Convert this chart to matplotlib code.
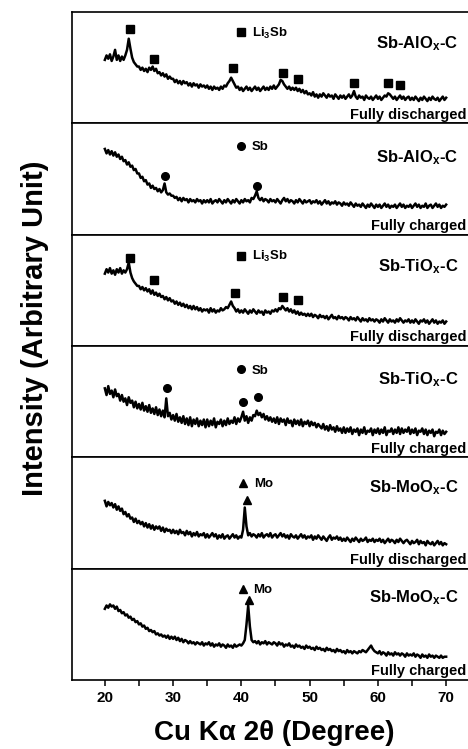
import numpy as np
import matplotlib.pyplot as plt
from matplotlib.ticker import MultipleLocator

plt.rcParams['font.family'] = 'Liberation Sans'
plt.rcParams['font.weight'] = 'bold'
plt.rcParams['mathtext.fontset'] = 'custom'
plt.rcParams['mathtext.rm'] = 'Liberation Sans:bold'
plt.rcParams['mathtext.it'] = 'Liberation Sans:bold'
plt.rcParams['mathtext.bf'] = 'Liberation Sans:bold'

# 2-theta grid of the scans (0.25 deg steps, 20-70 deg)
two_theta = np.arange(20, 70.001, 0.25)

# intensities, each pattern scaled into its own 0-100 panel
alox_discharged = [
    57, 61, 58, 62, 56, 60, 66, 57, 61, 56, 60, 57, 61, 66, 76, 67, 59, 55, 53, 51,
    51, 48, 50, 47, 49, 46, 50, 48, 51, 47, 49, 45, 46, 43, 45, 42, 44, 40, 42, 40,
    40, 37, 39, 36, 38, 35, 38, 36, 37, 34, 36, 33, 36, 34, 35, 32, 35, 33, 34, 32,
    34, 31, 33, 30, 33, 31, 32, 30, 33, 31, 34, 33, 36, 38, 41, 38, 35, 32, 33, 30,
    32, 29, 31, 33, 30, 32, 29, 31, 33, 30, 32, 29, 31, 33, 30, 32, 30, 33, 31, 34,
    31, 33, 35, 39, 38, 35, 33, 31, 33, 30, 32, 30, 32, 29, 31, 28, 30, 27, 29, 26,
    27, 25, 28, 24, 26, 23, 26, 24, 27, 25, 23, 26, 24, 25, 22, 26, 24, 22, 25, 23,
    25, 22, 24, 26, 23, 25, 29, 24, 22, 25, 23, 24, 21, 25, 23, 22, 24, 21, 23, 25,
    22, 24, 21, 23, 25, 24, 27, 26, 24, 22, 24, 21, 23, 25, 22, 24, 21, 23, 24, 21,
    23, 21, 24, 22, 20, 23, 21, 24, 22, 20, 23, 21, 24, 22, 21, 23, 20, 22, 24, 21,
    23]
alox_charged = [
    77, 73, 76, 72, 75, 71, 74, 70, 72, 68, 70, 66, 67, 63, 65, 61, 62, 58, 59, 55,
    55, 51, 52, 48, 49, 45, 46, 42, 44, 41, 42, 39, 41, 38, 40, 46, 38, 36, 37, 35,
    35, 33, 34, 31, 33, 30, 33, 31, 32, 29, 32, 30, 31, 29, 32, 30, 31, 28, 31, 29,
    31, 29, 32, 28, 30, 31, 29, 32, 30, 28, 31, 29, 32, 30, 28, 31, 29, 32, 30, 28,
    31, 29, 32, 30, 31, 29, 33, 32, 35, 39, 33, 31, 33, 30, 32, 31, 29, 32, 30, 31,
    29, 32, 30, 28, 31, 33, 30, 32, 29, 31, 30, 28, 31, 29, 32, 30, 28, 31, 29, 30,
    31, 28, 30, 29, 31, 28, 30, 27, 29, 31, 28, 30, 27, 29, 28, 30, 27, 29, 28, 26,
    29, 27, 28, 26, 29, 27, 25, 28, 26, 27, 25, 28, 26, 24, 27, 25, 28, 26, 24, 27,
    25, 27, 24, 26, 28, 25, 27, 24, 26, 25, 27, 24, 26, 28, 25, 27, 24, 26, 25, 27,
    24, 26, 28, 25, 27, 24, 26, 25, 28, 24, 26, 27, 24, 26, 28, 25, 27, 24, 26, 25,
    27]
tiox_discharged = [
    65, 69, 66, 70, 65, 68, 64, 69, 66, 70, 65, 68, 66, 69, 75, 66, 61, 58, 56, 54,
    54, 51, 53, 50, 52, 49, 51, 47, 50, 46, 48, 45, 47, 44, 45, 42, 44, 41, 43, 40,
    41, 38, 40, 37, 39, 36, 38, 35, 37, 34, 36, 33, 36, 33, 35, 32, 34, 31, 33, 32,
    33, 30, 34, 31, 33, 30, 32, 31, 34, 32, 33, 35, 34, 37, 40, 36, 34, 31, 33, 30,
    32, 30, 33, 31, 29, 32, 30, 33, 31, 29, 32, 30, 31, 28, 32, 30, 31, 29, 32, 31,
    33, 31, 34, 33, 36, 34, 32, 34, 31, 33, 30, 32, 29, 31, 28, 30, 28, 29, 27, 29,
    27, 29, 26, 28, 27, 25, 28, 26, 27, 25, 27, 24, 26, 28, 25, 26, 24, 27, 25, 26,
    24, 26, 25, 23, 26, 24, 25, 23, 26, 24, 22, 25, 23, 24, 22, 25, 23, 24, 22, 24,
    23, 21, 24, 22, 25, 23, 21, 24, 22, 23, 21, 24, 22, 25, 23, 21, 23, 22, 24, 21,
    23, 21, 24, 22, 20, 23, 22, 24, 21, 23, 20, 22, 24, 21, 23, 20, 22, 21, 23, 20,
    22]
tiox_charged = [
    62, 56, 64, 57, 60, 54, 61, 55, 57, 51, 56, 50, 53, 47, 54, 49, 51, 45, 50, 44,
    48, 43, 49, 42, 46, 41, 47, 40, 44, 39, 45, 38, 43, 37, 42, 36, 53, 37, 40, 34,
    38, 33, 39, 32, 36, 31, 37, 30, 35, 29, 36, 28, 34, 30, 35, 28, 33, 29, 34, 27,
    34, 28, 33, 29, 35, 27, 32, 30, 34, 28, 33, 29, 35, 30, 33, 31, 36, 30, 35, 32,
    36, 41, 33, 37, 31, 36, 33, 38, 37, 42, 38, 40, 36, 39, 34, 37, 33, 36, 32, 35,
    31, 36, 30, 35, 32, 34, 29, 35, 31, 33, 28, 34, 30, 33, 29, 34, 28, 32, 30, 33,
    28, 32, 29, 31, 27, 30, 28, 26, 30, 25, 28, 24, 29, 25, 27, 23, 28, 24, 26, 22,
    27, 22, 26, 23, 27, 21, 25, 23, 26, 20, 25, 22, 27, 21, 24, 23, 26, 20, 25, 22,
    26, 21, 25, 22, 27, 20, 24, 23, 26, 21, 25, 22, 27, 21, 26, 22, 25, 23, 27, 21,
    25, 22, 26, 20, 24, 23, 26, 21, 25, 20, 24, 22, 25, 19, 23, 22, 25, 20, 24, 21,
    23]
moox_discharged = [
    61, 56, 60, 57, 59, 55, 58, 53, 56, 52, 54, 49, 51, 47, 49, 45, 46, 42, 45, 41,
    43, 40, 42, 38, 41, 37, 40, 36, 39, 35, 38, 36, 38, 34, 37, 33, 36, 34, 35, 32,
    35, 32, 34, 31, 35, 32, 33, 30, 34, 31, 33, 29, 32, 30, 33, 29, 31, 30, 32, 28,
    31, 28, 30, 32, 29, 31, 27, 30, 28, 31, 27, 29, 30, 27, 29, 31, 28, 30, 27, 29,
    28, 35, 55, 38, 30, 32, 29, 31, 30, 28, 31, 29, 32, 28, 30, 31, 29, 32, 28, 30,
    31, 28, 30, 32, 29, 31, 28, 30, 27, 31, 29, 28, 30, 27, 29, 31, 28, 30, 27, 29,
    28, 30, 26, 29, 27, 30, 28, 26, 29, 27, 25, 28, 30, 26, 28, 27, 29, 26, 28, 25,
    27, 25, 28, 26, 24, 27, 25, 28, 26, 24, 27, 25, 26, 28, 24, 26, 25, 27, 24, 26,
    25, 27, 24, 26, 23, 25, 27, 24, 26, 25, 23, 26, 24, 27, 25, 23, 25, 26, 24, 22,
    25, 23, 24, 26, 22, 25, 23, 24, 21, 25, 23, 22, 24, 21, 23, 25, 22, 24, 21, 23,
    22]
moox_charged = [
    64, 67, 65, 68, 66, 67, 64, 66, 62, 63, 60, 61, 58, 59, 56, 57, 54, 55, 52, 53,
    50, 51, 48, 49, 46, 47, 44, 45, 43, 44, 41, 42, 40, 41, 39, 40, 38, 40, 37, 39,
    37, 39, 36, 38, 35, 37, 34, 36, 35, 33, 35, 33, 34, 32, 34, 33, 32, 34, 31, 33,
    32, 34, 31, 33, 30, 32, 31, 33, 30, 32, 31, 29, 32, 30, 31, 29, 32, 30, 31, 32,
    31, 33, 36, 50, 67, 48, 36, 34, 35, 33, 35, 32, 34, 33, 35, 32, 34, 33, 32, 34,
    33, 31, 34, 32, 33, 30, 32, 31, 33, 30, 31, 29, 32, 30, 31, 29, 30, 28, 31, 29,
    30, 28, 29, 27, 30, 28, 29, 27, 28, 26, 29, 27, 28, 26, 27, 25, 28, 26, 27, 25,
    26, 24, 27, 25, 26, 24, 26, 25, 24, 26, 25, 27, 26, 25, 27, 29, 31, 28, 26, 25,
    24, 26, 23, 25, 24, 22, 25, 23, 24, 22, 25, 23, 24, 22, 24, 23, 21, 24, 22, 23,
    22, 24, 21, 23, 22, 20, 23, 21, 22, 20, 23, 21, 22, 20, 22, 21, 20, 22, 20, 21,
    21]

patterns = [alox_discharged, alox_charged, tiox_discharged,
            tiox_charged, moox_discharged, moox_charged]
samples = ['Sb-AlO$_x$-C', 'Sb-AlO$_x$-C', 'Sb-TiO$_x$-C',
           'Sb-TiO$_x$-C', 'Sb-MoO$_x$-C', 'Sb-MoO$_x$-C']
states = ['Fully discharged', 'Fully charged', 'Fully discharged',
          'Fully charged', 'Fully discharged', 'Fully charged']

# indexed reflections: marker, 2-theta, height
phase_names = ['Li$_3$Sb', 'Sb', 'Li$_3$Sb', 'Sb', 'Mo', 'Mo']
phase_symbols = ['s', 'o', 's', 'o', '^', '^']
peak_pos = [[23.7, 27.2, 38.8, 46.1, 48.3, 56.5, 61.5, 63.2],
            [28.8, 42.3],
            [23.7, 27.2, 39.1, 46.1, 48.3],
            [29.1, 40.2, 42.4],
            [40.8],
            [41.1]]
peak_height = [[85, 58, 50, 45, 40, 36, 36, 34],
               [53, 44],
               [79, 59, 48, 44, 41],
               [62, 50, 54],
               [62],
               [72]]
key_x = [40.0, 40.0, 40.0, 40.0, 40.3, 40.2]
key_y = [82, 80, 81, 79, 77, 82]
label_y = [67.5, 65, 67, 66, 68.5, 70]

fig, axes = plt.subplots(6, 1, sharex=True, figsize=(4.68, 7.49), dpi=100)
fig.subplots_adjust(left=0.154, right=1.0, top=0.984, bottom=0.092, hspace=0)

for i, ax in enumerate(axes):
    ax.plot(two_theta, patterns[i], color='black', lw=1.8)
    ax.plot(peak_pos[i], peak_height[i], ls='none', marker=phase_symbols[i],
            color='black', ms=5.5)
    ax.plot([key_x[i]], [key_y[i]], ls='none', marker=phase_symbols[i],
            color='black', ms=5.5)
    ax.text(key_x[i] + 1.5, key_y[i] - 4, phase_names[i], fontsize=9.5,
            va='baseline', ha='left')
    ax.text(71.8, label_y[i], samples[i], fontsize=12, ha='right', va='baseline')
    ax.text(73.0, 1.5, states[i], fontsize=10.5, ha='right', va='bottom')

    ax.set_ylim(0, 100)
    ax.set_xlim(15.2, 73.2)
    ax.set_yticks([])
    ax.spines['right'].set_visible(False)
    for s in ax.spines.values():
        s.set_linewidth(1.2)
    ax.xaxis.set_major_locator(MultipleLocator(10))
    ax.xaxis.set_minor_locator(MultipleLocator(5))
    ax.tick_params(axis='x', which='both', direction='out', length=4,
                   width=1.1, top=False, labelsize=11)

fig.text(274 / 468, 0.0214, 'Cu K\u03b1 2\u03b8 (Degree)',
         fontsize=20, ha='center', va='center')
fig.text(0.075, 1 - 328 / 749, 'Intensity (Arbitrary Unit)', fontsize=21,
         rotation=90, ha='center', va='center')

fig.savefig('out.png', dpi=100)
